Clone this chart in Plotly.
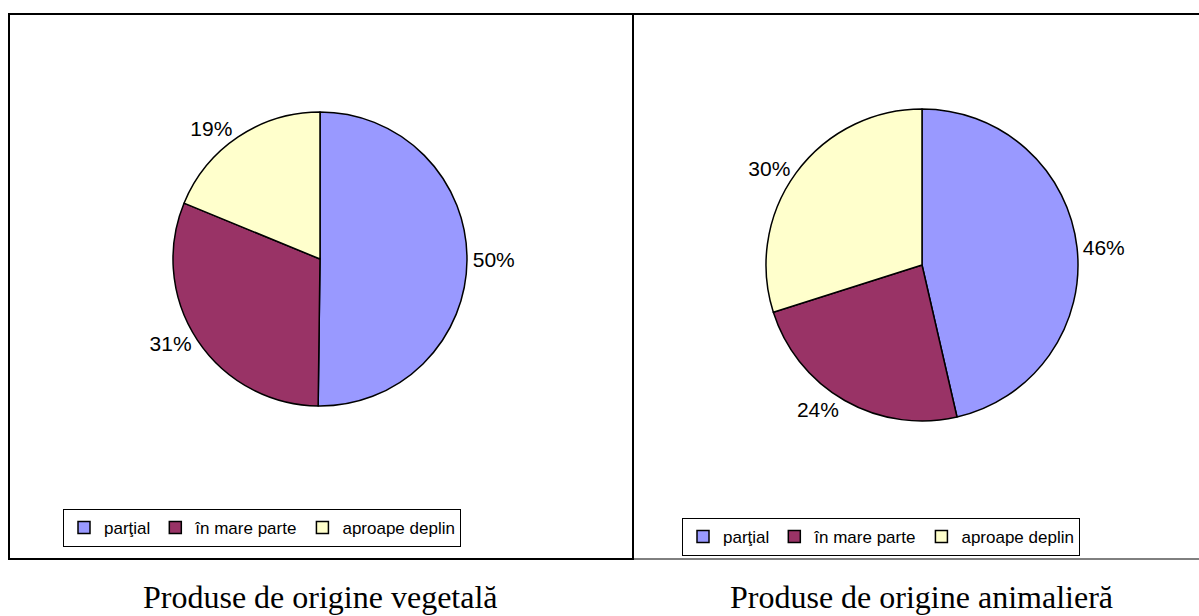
import plotly.graph_objects as go

W, H = 1199, 616

categories = ["parţial", "în mare parte", "aproape deplin"]
veg_values = [50.2, 31.0, 18.8]
anim_values = [46.4, 23.7, 29.9]
colors = ["#9999FF", "#993366", "#FFFFCC"]
titles = ["Produse de origine vegetală", "Produse de origine animalieră"]


def px_x(v):
    return v / W


def px_y(v):
    return 1 - v / H


fig = go.Figure()

fig.add_trace(go.Pie(
    labels=categories, values=veg_values, sort=False, direction="clockwise", rotation=0,
    marker=dict(colors=colors, line=dict(color="black", width=1.5)),
    texttemplate="%{percent:.0%}", textposition="outside",
    outsidetextfont=dict(family="Liberation Sans", size=21, color="black"),
    domain=dict(x=[px_x(173), px_x(467)], y=[px_y(406), px_y(112)]),
    legend="legend", hoverinfo="label+percent",
))

# second pie: labels made distinct (invisible suffix) so it gets its own legend
fig.add_trace(go.Pie(
    labels=[c + "\u200b" for c in categories], values=anim_values, sort=False,
    direction="clockwise", rotation=0,
    marker=dict(colors=colors, line=dict(color="black", width=1.5)),
    texttemplate="%{percent:.0%}", textposition="outside",
    outsidetextfont=dict(family="Liberation Sans", size=21, color="black"),
    domain=dict(x=[px_x(766), px_x(1078)], y=[px_y(421), px_y(109)]),
    legend="legend2", hoverinfo="label+percent",
))

legend_common = dict(
    orientation="h", xanchor="center", yanchor="top",
    bordercolor="black", borderwidth=1, bgcolor="white",
    font=dict(family="Liberation Sans", size=17, color="black"),
    itemwidth=30, tracegroupgap=0, traceorder="normal",
)

shapes = [
    dict(type="rect", xref="paper", yref="paper",
         x0=px_x(633), x1=px_x(1201), y0=px_y(559), y1=px_y(14),
         line=dict(color="black", width=1)),
    dict(type="line", xref="paper", yref="paper",
         x0=px_x(633), x1=px_x(1201), y0=px_y(14), y1=px_y(14),
         line=dict(color="black", width=2)),
    dict(type="rect", xref="paper", yref="paper",
         x0=px_x(9), x1=px_x(633), y0=px_y(559), y1=px_y(14),
         line=dict(color="black", width=2)),
]

annotations = [
    dict(text=titles[0], xref="paper", yref="paper", x=px_x(320), y=px_y(597),
         xanchor="center", yanchor="middle", showarrow=False,
         font=dict(family="Liberation Serif", size=32, color="black")),
    dict(text=titles[1], xref="paper", yref="paper", x=px_x(921), y=px_y(597),
         xanchor="center", yanchor="middle", showarrow=False,
         font=dict(family="Liberation Serif", size=32, color="black")),
]

fig.update_layout(
    width=W, height=H,
    margin=dict(l=0, r=0, t=0, b=0),
    paper_bgcolor="white", plot_bgcolor="white",
    showlegend=True,
    legend=dict(x=px_x(262), y=px_y(509), **legend_common),
    legend2=dict(x=px_x(881), y=px_y(518), **legend_common),
    shapes=shapes,
    annotations=annotations,
)

fig.write_html("out.html", config={"displayModeBar": False},
               post_script="document.body.style.margin='0';")
